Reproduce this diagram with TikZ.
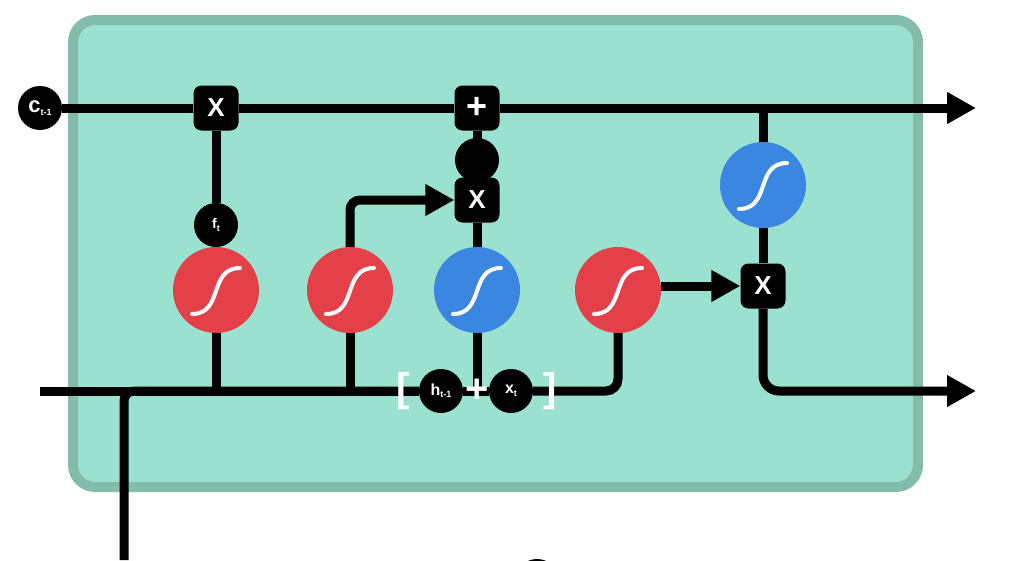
\documentclass[tikz,border=0pt]{standalone}
\usepackage{fontspec}
\setsansfont{Liberation Sans}
\usetikzlibrary{positioning, arrows.meta, shapes}
\definecolor{cellfill}{HTML}{9AE1CF}
\definecolor{cellborder}{HTML}{84BCAB}
\definecolor{gatered}{HTML}{E4404A}
\definecolor{gateblue}{HTML}{3A86E0}
\newcommand{\idx}[1]{\raisebox{-0.15em}{\fontsize{9}{9}\selectfont #1}}
\tikzset{>={Triangle[length=29pt,width=30pt]}, x=1pt, y=-1pt,
  wire/.style={line width=9pt, draw=black},
  op/.style={rectangle, rounded corners=8pt, fill=black, minimum size=45pt, inner sep=0pt, text=white, font=\sffamily\bfseries\fontsize{26}{26}\selectfont},
  tag/.style={circle, fill=black, minimum size=44pt, inner sep=0pt, text=white, font=\sffamily\bfseries\fontsize{16}{16}\selectfont},
  gate/.style={circle, minimum size=86pt, inner sep=0pt},
  bracket/.style={text=white, inner sep=0pt, font=\sffamily\bfseries\fontsize{40}{40}\selectfont},
  sigm/.pic={\draw[white, line width=4pt, line cap=round] (-24,24) .. controls (8,24) and (-8,-22) .. (24,-22);}
}

\begin{document}
\begin{tikzpicture}
    \useasboundingbox (0,0) rectangle (1015,560);
    \draw[cellborder, fill=cellfill, line width=10pt, rounded corners=22pt] (73,20) rectangle (918,487);
    % cell state line
    \node[tag] (cprev) at (40,108) {{\fontsize{22}{22}\selectfont c}\idx{t-1}};
    \node[op] (fx) at (216,108) {X};
    \node[op, font=\sffamily\bfseries\fontsize{36}{36}\selectfont] (add) at (477,108) {+};
    \node[tag] (itag) at (477,160) {};
    \node[op] (ix) at (477,200) {X};
    \node[tag, font=\sffamily\bfseries\fontsize{14}{14}\selectfont] (ft) at (216,225) {f\idx{t}};
    % gates
    \node[gate, fill=gatered] (forget) at (216,290) {};
    \node[gate, fill=gatered] (ingate) at (350,290) {};
    \node[gate, fill=gateblue] (cand) at (477,290) {};
    \node[gate, fill=gatered] (outgate) at (618,290) {};
    \node[gate, fill=gateblue] (tanh) at (763,185) {};
    \node[op] (ox) at (763,286) {X};
    \foreach \g in {forget, ingate, cand, outgate, tanh}
        \pic at (\g) {sigm};
    % inputs
    \node[tag] (hprev) at (441,391) {h\idx{t-1}};
    \node[tag] (xcur) at (511,391) {x\idx{t}};
    \node[tag] (xin) at (537,581) {};
    \coordinate (join) at (477,391);
    \coordinate (hin) at (40,391);
    \coordinate (xbot) at (124,560);
    \coordinate (tap) at (763,108);
    \coordinate (cout) at (976,108);
    \coordinate (hout) at (976,391);

    \draw[wire, ->] (cprev) -- (fx) -- (add) -- (cout);
    \draw[wire] (ft) -- (fx);
    \draw[wire] (add) -- (ix);
    \draw[wire] (cand) -- (ix);
    \draw[wire, ->, rounded corners=10pt] (ingate.north) |- (ix.west);
    \draw[wire, ->] (outgate.east |- ox.west) -- (ox.west);
    \draw[wire] (tap) -- (tanh) -- (ox);
    \draw[wire, ->, rounded corners=16pt] (ox) |- (hout);
    \draw[wire] (hin) -- (hprev) -- (xcur);
    \draw[wire, rounded corners=12pt] (xcur) -| (outgate);
    \draw[wire, rounded corners=10pt] (xbot) |- (hprev);
    \draw[wire] (forget) -- (forget |- hin);
    \draw[wire] (ingate) -- (ingate |- hin);
    \draw[wire] (cand) -- (join);
    % concatenation labels
    \node[bracket] (plus) at (join) {+};
    \node[bracket] (lb) at (403,391) {[};
    \node[bracket] (rb) at (550,391) {]};
\end{tikzpicture}
\end{document}
